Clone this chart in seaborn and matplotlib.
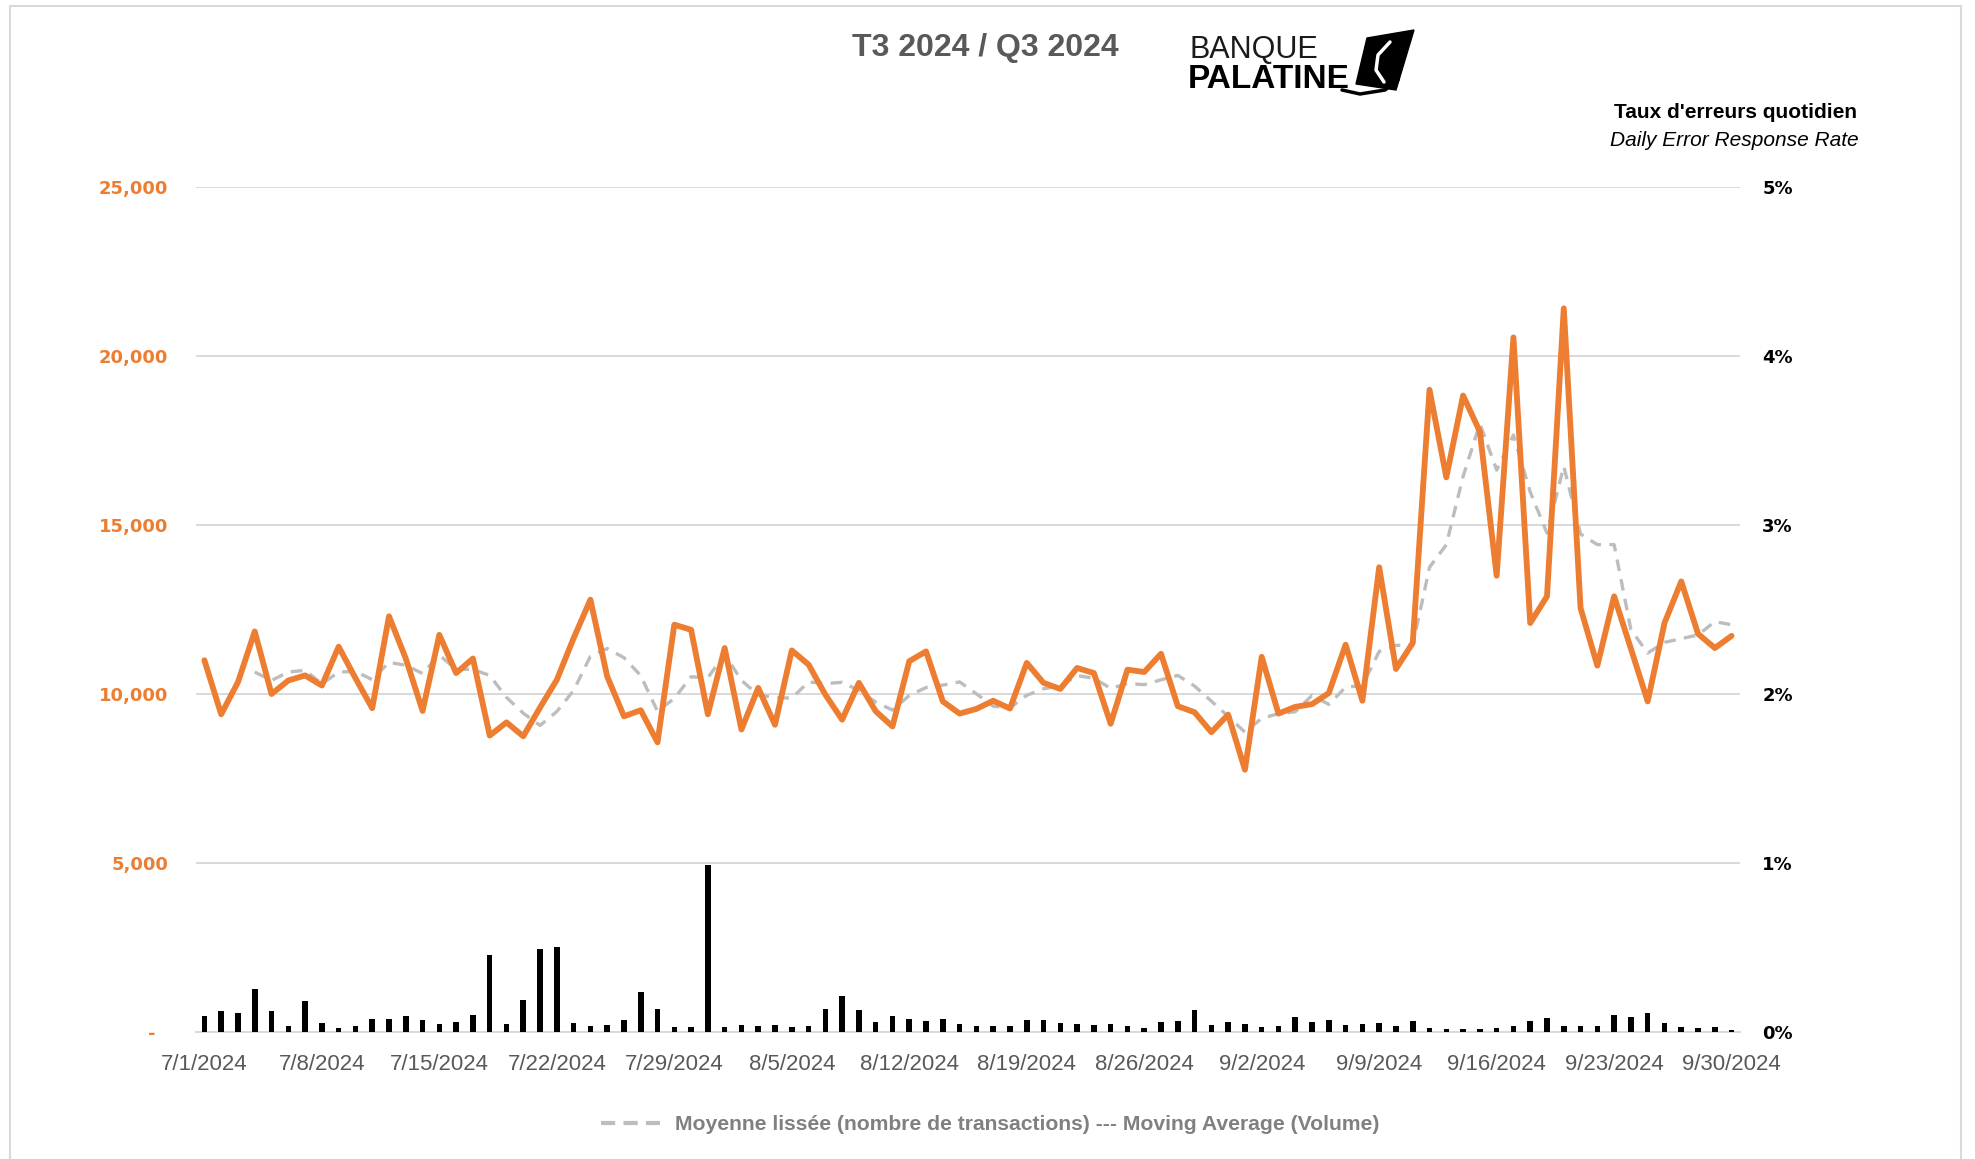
import numpy as np
import pandas as pd
import seaborn as sns
import matplotlib.pyplot as plt
from matplotlib import font_manager
from matplotlib.patches import Polygon
from matplotlib.lines import Line2D

# ---- data: one value per day, 7/1/2024 -> 9/30/2024 ----
volume = [11000, 9400, 10350, 11850, 10000, 10400, 10550, 10250, 11400, 10470,
          9580, 12300, 11050, 9500, 11750, 10620, 11050, 8770, 9160, 8750,
          9600, 10420, 11650, 12790, 10520, 9340, 9520, 8570, 12050, 11900,
          9400, 11360, 8950, 10180, 9090, 11290, 10870, 9980, 9240, 10330,
          9490, 9040, 10970, 11260, 9780, 9420, 9560, 9800, 9570, 10920,
          10330, 10150, 10770, 10620, 9120, 10720, 10650, 11190, 9640, 9460,
          8870, 9390, 7760, 11100, 9420, 9620, 9700, 10030, 11460, 9800,
          13750, 10740, 11510, 19000, 16410, 18830, 17760, 13500, 20550, 12100,
          12890, 21410, 12540, 10840, 12890, 11340, 9780, 12100, 13330, 11780,
          11360, 11720]

error_rate_pct = [0.097, 0.123, 0.111, 0.257, 0.125, 0.034, 0.184, 0.053, 0.022, 0.034,
                  0.079, 0.077, 0.093, 0.069, 0.046, 0.061, 0.103, 0.453, 0.050, 0.188,
                  0.489, 0.505, 0.053, 0.034, 0.044, 0.069, 0.238, 0.135, 0.028, 0.028,
                  0.990, 0.028, 0.040, 0.034, 0.040, 0.030, 0.034, 0.135, 0.212, 0.129,
                  0.057, 0.097, 0.077, 0.065, 0.077, 0.050, 0.038, 0.034, 0.038, 0.069,
                  0.073, 0.053, 0.050, 0.044, 0.050, 0.034, 0.024, 0.057, 0.067, 0.131,
                  0.042, 0.059, 0.046, 0.030, 0.038, 0.087, 0.057, 0.073, 0.040, 0.047,
                  0.053, 0.034, 0.063, 0.022, 0.019, 0.016, 0.016, 0.022, 0.034, 0.063,
                  0.081, 0.034, 0.034, 0.034, 0.100, 0.088, 0.110, 0.053, 0.028, 0.022,
                  0.028, 0.009]

tick_labels = ['7/1/2024', '7/8/2024', '7/15/2024', '7/22/2024', '7/29/2024',
               '8/5/2024', '8/12/2024', '8/19/2024', '8/26/2024', '9/2/2024',
               '9/9/2024', '9/16/2024', '9/23/2024', '9/30/2024']

ma_period = 4  # excel moving-average trendline on the volume

ORANGE = '#ED7D31'
GRID = '#D9D9D9'

names = {f.name for f in font_manager.fontManager.ttflist}
narrow = 'Liberation Sans Narrow' if 'Liberation Sans Narrow' in names else 'Liberation Sans'

W, H = 1975, 1159


def fx(px):
    return px / W


def fy(py):
    return 1 - py / H


df = pd.DataFrame({'day': np.arange(len(volume)),
                   'volume': volume,
                   'error_rate': error_rate_pct})
df['moving_avg'] = df['volume'].rolling(ma_period).mean()

sns.set_style('white')
fig = plt.figure(figsize=(W / 100, H / 100), dpi=100)
ax = fig.add_axes([fx(196), fy(1032), fx(1740) - fx(196), fy(187) - fy(1032)])
ax2 = ax.twinx()

# bars: daily error rate (right axis)
sns.barplot(data=df, x='day', y='error_rate', ax=ax2, color='black',
            width=0.33, native_scale=True, saturation=1, linewidth=0)

# lines: volume + moving average (left axis)
sns.lineplot(data=df, x='day', y='moving_avg', ax=ax, color='#BDBDBD',
             lw=2.4, linestyle=(0, (3.5, 2.5)))
sns.lineplot(data=df, x='day', y='volume', ax=ax, color=ORANGE, lw=4.2)

ax.set_ylim(0, 25000)
ax.set_yticks(range(0, 25001, 5000))
ax.set_yticklabels(['-  '] + [f'{v:,}' for v in range(5000, 25001, 5000)])
ax2.set_ylim(0, 5)
ax2.set_yticks(range(6))
ax2.set_yticklabels([f'{v}%' for v in range(6)])

ax.set_xlim(-0.5, len(volume) - 0.5)
ax2.set_xlim(-0.5, len(volume) - 0.5)
ax.set_xticks(np.arange(0, len(volume), 7))
ax.set_xticklabels(tick_labels)
ax.set_xticks(np.arange(0, len(volume), 7) - 0.5, minor=True)

ax.set_xlabel('')
ax.set_ylabel('')
ax2.set_xlabel('')
ax2.set_ylabel('')

ax.yaxis.grid(True, color=GRID, lw=1.4)
ax.xaxis.grid(False)
ax.set_axisbelow(True)
for s in ax.spines.values():
    s.set_visible(False)
for s in ax2.spines.values():
    s.set_visible(False)
ax.spines['bottom'].set_visible(True)
ax.spines['bottom'].set_color(GRID)
ax.spines['bottom'].set_linewidth(1.4)

ax.tick_params(axis='y', length=0, pad=20, labelcolor=ORANGE)
ax2.tick_params(axis='y', length=0, pad=16, labelcolor='black')
ax.tick_params(axis='x', which='major', length=0, pad=16, labelcolor='#595959')
ax.tick_params(axis='x', which='minor', length=7, width=1.4, color=GRID, direction='out')
for lab in ax.get_yticklabels() + ax2.get_yticklabels():
    lab.set_fontweight('bold')
    lab.set_fontsize(13)
for lab in ax.get_xticklabels():
    lab.set_family('Liberation Sans')
    lab.set_fontsize(16)

# header
fig.text(fx(985), fy(48), 'T3 2024 / Q3 2024', ha='center', va='center',
         family=narrow, weight='bold', size=23, color='#595959')
fig.text(fx(1857), fy(113), "Taux d'erreurs quotidien", ha='right', va='center',
         family=narrow, weight='bold', size=15, color='black')
fig.text(fx(1859), fy(141), 'Daily Error Response Rate', ha='right', va='center',
         family=narrow, style='italic', size=15, color='black')

# logo
fig.text(fx(1189), fy(50), 'BANQUE', ha='left', va='center',
         family='Liberation Sans', size=22, color='#1a1a1a')
fig.text(fx(1188), fy(79), 'PALATINE', ha='left', va='center',
         family=narrow, weight='bold', size=24, color='black')
emblem = Polygon([(fx(1367), fy(38)), (fx(1414), fy(30)), (fx(1396), fy(90)), (fx(1356), fy(84))],
                 closed=True, transform=fig.transFigure, color='black')
fig.add_artist(emblem)
fig.add_artist(Line2D([fx(1390), fx(1378), fx(1376), fx(1384)],
                      [fy(42), fy(55), fy(70), fy(82)],
                      transform=fig.transFigure, color='white', lw=2.5))
fig.add_artist(Line2D([fx(1342), fx(1360), fx(1385), fx(1398)],
                      [fy(90), fy(94), fy(90), fy(80)],
                      transform=fig.transFigure, color='black', lw=2.5))

# legend
handle = Line2D([], [], color='#BDBDBD', lw=3, linestyle=(0, (3.4, 2.0)))
fig.legend([handle], ['Moyenne lissée (nombre de transactions) --- Moving Average (Volume)'],
           loc='center', bbox_to_anchor=(fx(990), fy(1125)), frameon=False,
           prop=dict(family=narrow, weight='bold', size=15.2), labelcolor='#808080',
           handlelength=2.8, handletextpad=0.7)

# light outer frame
for xs, ys in [([10, 10], [6, H]), ([10, 1961], [6, 6]), ([1961, 1961], [6, H])]:
    fig.add_artist(Line2D([fx(x) for x in xs], [fy(y) for y in ys],
                          transform=fig.transFigure, color=GRID, lw=1.5))

fig.savefig('out.png', dpi=100)
